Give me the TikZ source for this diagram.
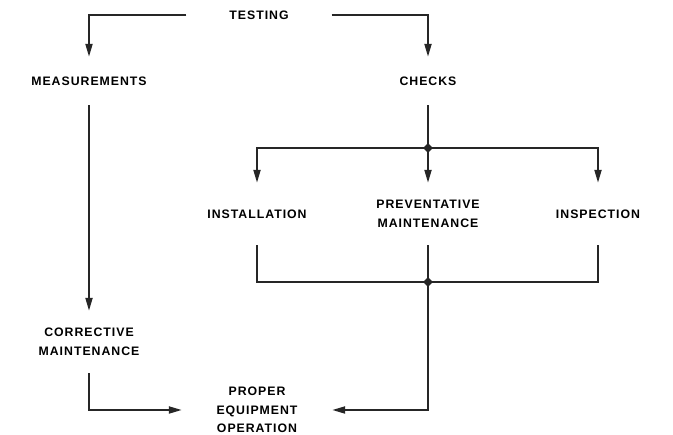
\documentclass[tikz,border=0pt]{standalone}
\usepackage{fontspec}
\usepackage{tikz}
\usetikzlibrary{arrows.meta,shapes.geometric}
\newfontfamily\lblfont[LetterSpace=8]{Liberation Sans}

\begin{document}
\begin{tikzpicture}[x=1pt, y=-1pt,
	lbl/.style={font=\lblfont\bfseries\fontsize{12.3}{18.5}\selectfont, align=center, inner sep=0pt},
	flow/.style={line width=2pt, draw=black!85, -{Triangle[length=13pt,width=7pt]}},
	wire/.style={line width=2pt, draw=black!85},
	dot/.style={diamond, fill=black!85, inner sep=0pt, minimum size=10pt}]
	\useasboundingbox (0,0) rectangle (673,435);
	\node[lbl, minimum width=145pt] (testing) at (259,15) {TESTING};
	\node[lbl, minimum height=48pt] (meas) at (89,81) {MEASUREMENTS};
	\node[lbl, minimum height=48pt] (checks) at (428,81) {CHECKS};
	\node[lbl, minimum height=62pt] (inst) at (257,214) {INSTALLATION};
	\node[lbl, minimum height=62pt] (prev) at (428,214) {PREVENTATIVE\\MAINTENANCE};
	\node[lbl, minimum height=62pt] (insp) at (598,214) {INSPECTION};
	\node[lbl, minimum height=62pt] (corr) at (89,342) {CORRECTIVE\\MAINTENANCE};
	\node[lbl, minimum width=150pt] (proper) at (257,410) {PROPER\\EQUIPMENT\\OPERATION};
	\node[dot] (jtop) at (428,148) {};
	\node[dot] (jbot) at (428,282) {};
	\draw[flow] (testing.west) -| (meas.north);
	\draw[flow] (testing.east) -| (checks.north);
	\draw[flow] (meas.south) -- (corr.north);
	\draw[flow] (corr.south) |- (proper.west);
	\draw[wire] (checks.south) -- (jtop.center);
	\draw[flow] (jtop.center) -| (inst.north);
	\draw[flow] (jtop.center) -- (prev.north);
	\draw[flow] (jtop.center) -| (insp.north);
	\draw[wire] (inst.south) |- (jbot.center);
	\draw[wire] (prev.south) -- (jbot.center);
	\draw[wire] (insp.south) |- (jbot.center);
	\draw[flow] (jbot.center) |- (proper.east);
\end{tikzpicture}
\end{document}
